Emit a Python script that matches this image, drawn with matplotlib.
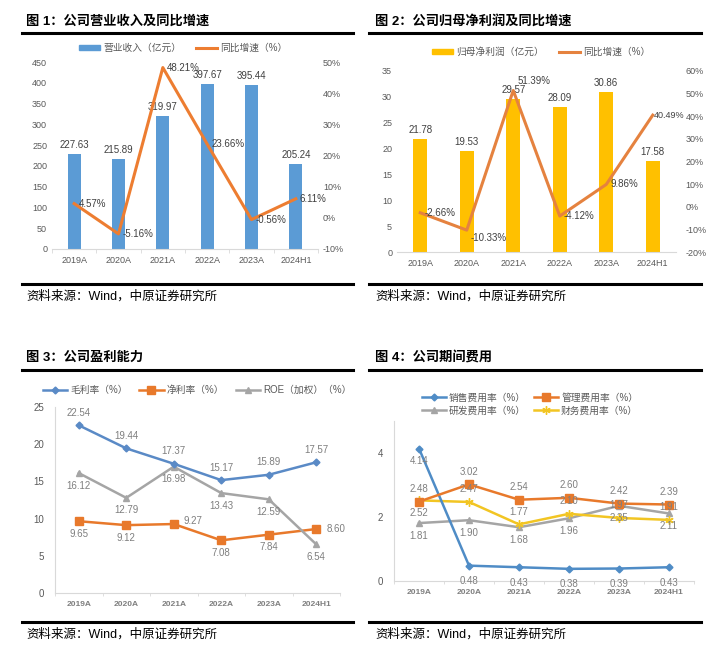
import matplotlib
matplotlib.use('Agg')
import matplotlib.pyplot as plt
from matplotlib.ticker import FuncFormatter, MultipleLocator
from matplotlib.lines import Line2D
from matplotlib.patches import Patch

plt.rcParams['font.family'] = ['Liberation Sans', 'Noto Sans CJK SC', 'DejaVu Sans']

# ---------------- data ----------------
years = ['2019A', '2020A', '2021A', '2022A', '2023A', '2024H1']
revenue = [227.63, 215.89, 319.97, 397.67, 395.44, 205.24]
revenue_yoy = [4.57, -5.16, 48.21, 23.66, -0.56, 6.11]
profit = [21.78, 19.53, 29.57, 28.09, 30.86, 17.58]
profit_yoy = [-2.66, -10.33, 51.39, -4.12, 9.86, 40.49]
gross_margin = [22.54, 19.44, 17.37, 15.17, 15.89, 17.57]
net_margin = [9.65, 9.12, 9.27, 7.08, 7.84, 8.60]
roe = [16.12, 12.79, 16.98, 13.43, 12.59, 6.54]
sales_rate = [4.14, 0.48, 0.43, 0.38, 0.39, 0.43]
admin_rate = [2.48, 3.02, 2.54, 2.60, 2.42, 2.39]
rd_rate = [1.81, 1.90, 1.68, 1.96, 2.35, 2.11]
fin_rate = [2.52, 2.47, 1.77, 2.10, 1.97, 1.91]

titles = ['图 1：公司营业收入及同比增速', '图 2：公司归母净利润及同比增速',
          '图 3：公司盈利能力', '图 4：公司期间费用']
source = '资料来源：Wind，中原证券研究所'

W, H = 727, 660
fig = plt.figure(figsize=(W / 100, H / 100), dpi=100)
fig.patch.set_facecolor('white')


def ax_px(x0, y0, x1, y1):
    return fig.add_axes([x0 / W, 1 - y1 / H, (x1 - x0) / W, (y1 - y0) / H])


def hline(x0, x1, y, lw=2.0):
    fig.add_artist(Line2D([x0 / W, x1 / W], [1 - y / H, 1 - y / H], color='black', lw=lw))


def ftext(x, y, s, **kw):
    fig.text(x / W, 1 - y / H, s, **kw)


TICK = '#595959'
LBL = '#404040'
x = list(range(len(years)))

# ---------------- frames ----------------
for (tx, lx0, lx1, ty, l1, l2, sy), t in zip(
        [(26, 22, 353, 21, 33, 284, 296),
         (375, 369, 701, 21, 33, 284, 296),
         (26, 22, 353, 358, 370, 622, 634),
         (375, 369, 701, 358, 370, 622, 634)], titles):
    ftext(tx, ty, t, fontsize=9.5, fontweight='bold', va='center', ha='left', color='black')
    hline(lx0, lx1, l1, 2.2)
    hline(lx0, lx1, l2, 2.2)
    ftext(tx, sy, source, fontsize=9, va='center', ha='left', color='black')


def style_bar_axes(ax, ax2):
    for a in (ax, ax2):
        for s in ('top', 'left', 'right'):
            a.spines[s].set_visible(False)
        a.spines['bottom'].set_visible(False)
        a.tick_params(axis='y', length=0, labelsize=6.5, labelcolor=TICK)
    ax.spines['bottom'].set_visible(True)
    ax.spines['bottom'].set_color('#d9d9d9')
    ax.set_xlim(-0.5, len(years) - 0.5)
    ax.set_xticks(x)
    ax.set_xticklabels(years)
    ax.tick_params(axis='x', length=0, labelsize=6.5, labelcolor=TICK, pad=5)
    ax.set_xticks([i - 0.5 for i in range(len(years) + 1)], minor=True)
    ax.tick_params(axis='x', which='minor', length=3, color='#d9d9d9')


pct = FuncFormatter(lambda v, p: f'{v:.0f}%')

# ---------------- chart 1 ----------------
ax1 = ax_px(52, 62, 318, 249)
ax1b = ax1.twinx()
ax1.bar(x, revenue, width=0.3, color='#5B9BD5', zorder=2)
ax1.set_ylim(0, 450)
ax1.yaxis.set_major_locator(MultipleLocator(50))
ax1b.plot(x, revenue_yoy, color='#ED7D31', lw=2.2, zorder=3)
ax1b.set_ylim(-10, 50)
ax1b.yaxis.set_major_locator(MultipleLocator(10))
ax1b.yaxis.set_major_formatter(pct)
style_bar_axes(ax1, ax1b)
for i, v in enumerate(revenue):
    ax1.annotate(f'{v:.2f}', (i, v), xytext=(0, 3), textcoords='offset points',
                 ha='center', va='bottom', fontsize=7, color=LBL)
for i, v in enumerate(revenue_yoy):
    ax1b.annotate(f'{v:.2f}%', (i, v), xytext=(3, 0), textcoords='offset points',
                  ha='left', va='center', fontsize=7, color=LBL, zorder=5)
ax1.legend(handles=[Patch(color='#5B9BD5'),
                    Line2D([], [], color='#ED7D31', lw=2.2)],
           labels=['营业收入（亿元）', '同比增速（%）'], loc='center',
           bbox_to_anchor=(183 / W, 1 - 48 / H), bbox_transform=fig.transFigure,
           ncol=2, frameon=False, fontsize=7, handlelength=2.2, handleheight=0.5,
           columnspacing=1.5, handletextpad=0.3, labelcolor=TICK)

# ---------------- chart 2 ----------------
ax2 = ax_px(397, 71, 676, 252)
ax2b = ax2.twinx()
ax2.bar(x, profit, width=0.3, color='#FFC000', zorder=2)
ax2.set_ylim(0, 35)
ax2.yaxis.set_major_locator(MultipleLocator(5))
ax2b.plot(x, profit_yoy, color='#E5823F', lw=2.2, zorder=3)
ax2b.set_ylim(-20, 60)
ax2b.yaxis.set_major_locator(MultipleLocator(10))
ax2b.yaxis.set_major_formatter(pct)
style_bar_axes(ax2, ax2b)
ax2b.tick_params(axis='y', pad=7)
ax2.tick_params(axis='x', which='minor', length=0)
for i, v in enumerate(profit):
    ax2.annotate(f'{v:.2f}', (i, v), xytext=(0, 3), textcoords='offset points',
                 ha='center', va='bottom', fontsize=7, color=LBL)
yoy2_off = [(3, 0), (3, -6), (3, 7), (3, 0), (3, 0), (1, 0)]
for i, v in enumerate(profit_yoy):
    ax2b.annotate(f'{v:.2f}%', (i, v), xytext=yoy2_off[i], textcoords='offset points',
                  ha='left', va='center', fontsize=7 if i < 5 else 6.5, color=LBL, zorder=5)
ax2.legend(handles=[Patch(color='#FFC000'),
                    Line2D([], [], color='#E5823F', lw=2.2)],
           labels=['归母净利润（亿元）', '同比增速（%）'], loc='center',
           bbox_to_anchor=(541 / W, 1 - 52 / H), bbox_transform=fig.transFigure,
           ncol=2, frameon=False, fontsize=7, handlelength=2.2, handleheight=0.5,
           columnspacing=1.5, handletextpad=0.3, labelcolor=TICK)


def style_line_axes(ax, ymax, step):
    for s in ('top', 'right'):
        ax.spines[s].set_visible(False)
    ax.spines['left'].set_color('#d9d9d9')
    ax.spines['bottom'].set_color('#d9d9d9')
    ax.set_xlim(-0.5, len(years) - 0.5)
    ax.set_xticks(x)
    ax.set_xticklabels(years, fontweight='bold')
    ax.tick_params(axis='x', length=0, labelsize=6, labelcolor='#7f7f7f', pad=6)
    ax.set_xticks([i - 0.5 for i in range(len(years) + 1)], minor=True)
    ax.tick_params(axis='x', which='minor', length=2, color='#d9d9d9')
    ax.set_ylim(0, ymax)
    ax.yaxis.set_major_locator(MultipleLocator(step))
    ax.tick_params(axis='y', length=0, labelsize=7, labelcolor=TICK, pad=8)


def labels(ax, vals, offs):
    for i, (v, o) in enumerate(zip(vals, offs)):
        ax.annotate(f'{v:.2f}', (i, v), xytext=o, textcoords='offset points',
                    ha='center', va='center', fontsize=7, color='#7f7f7f', zorder=6)


# ---------------- chart 3 ----------------
ax3 = ax_px(55, 407, 340, 593)
c_blue, c_orange, c_gray = '#5A8AC6', '#E8792B', '#A5A5A5'
ax3.plot(x, gross_margin, color=c_blue, lw=1.8, marker='D', ms=3.5, zorder=4)
ax3.plot(x, net_margin, color=c_orange, lw=1.8, marker='s', ms=5.5, zorder=3)
ax3.plot(x, roe, color=c_gray, lw=1.8, marker='^', ms=5, zorder=3)
style_line_axes(ax3, 25, 5)
up, dn = (0, 9), (0, -9)
labels(ax3, gross_margin, [up] * 6)
labels(ax3, roe, [dn] * 6)
labels(ax3, net_margin, [dn, dn, (14, 2), dn, dn, (14, 0)])
ax3.legend(handles=[Line2D([], [], color=c_blue, lw=1.8, marker='D', ms=3.5),
                    Line2D([], [], color=c_orange, lw=1.8, marker='s', ms=5.5),
                    Line2D([], [], color=c_gray, lw=1.8, marker='^', ms=4)],
           labels=['毛利率（%）', '净利率（%）', 'ROE（加权）（%）'], loc='center',
           bbox_to_anchor=(197 / W, 1 - 390 / H), bbox_transform=fig.transFigure,
           ncol=3, frameon=False, fontsize=7, handlelength=2.5,
           columnspacing=1.2, handletextpad=0.3, labelcolor=TICK)

# ---------------- chart 4 ----------------
ax4 = ax_px(394, 421, 694, 581)
c_yel = '#F2C523'
h_sales, = ax4.plot(x, sales_rate, color='#4F8CC6', lw=1.8, marker='D', ms=3.5, zorder=4)
h_admin, = ax4.plot(x, admin_rate, color=c_orange, lw=1.8, marker='s', ms=5.5, zorder=4)
h_rd, = ax4.plot(x, rd_rate, color=c_gray, lw=1.8, marker='^', ms=5, zorder=3)
h_fin, = ax4.plot(x, fin_rate, color=c_yel, lw=1.8, marker=(6, 2, 0), ms=6, zorder=3)
style_line_axes(ax4, 5, 2)
labels(ax4, sales_rate, [dn] + [(0, -11)] * 5)
labels(ax4, admin_rate, [up] * 6)
labels(ax4, rd_rate, [dn] * 6)
labels(ax4, fin_rate, [dn, up, up, up, up, up])
ax4.legend(handles=[h_sales, h_rd, h_admin, h_fin],
           labels=['销售费用率（%）', '研发费用率（%）', '管理费用率（%）', '财务费用率（%）'],
           loc='center', bbox_to_anchor=(530 / W, 1 - 404 / H), bbox_transform=fig.transFigure,
           ncol=2, frameon=False, fontsize=7, handlelength=2.5,
           columnspacing=0.8, handletextpad=0.3, labelspacing=0.3, labelcolor=TICK)

fig.savefig('out.png', dpi=100, facecolor='white')
